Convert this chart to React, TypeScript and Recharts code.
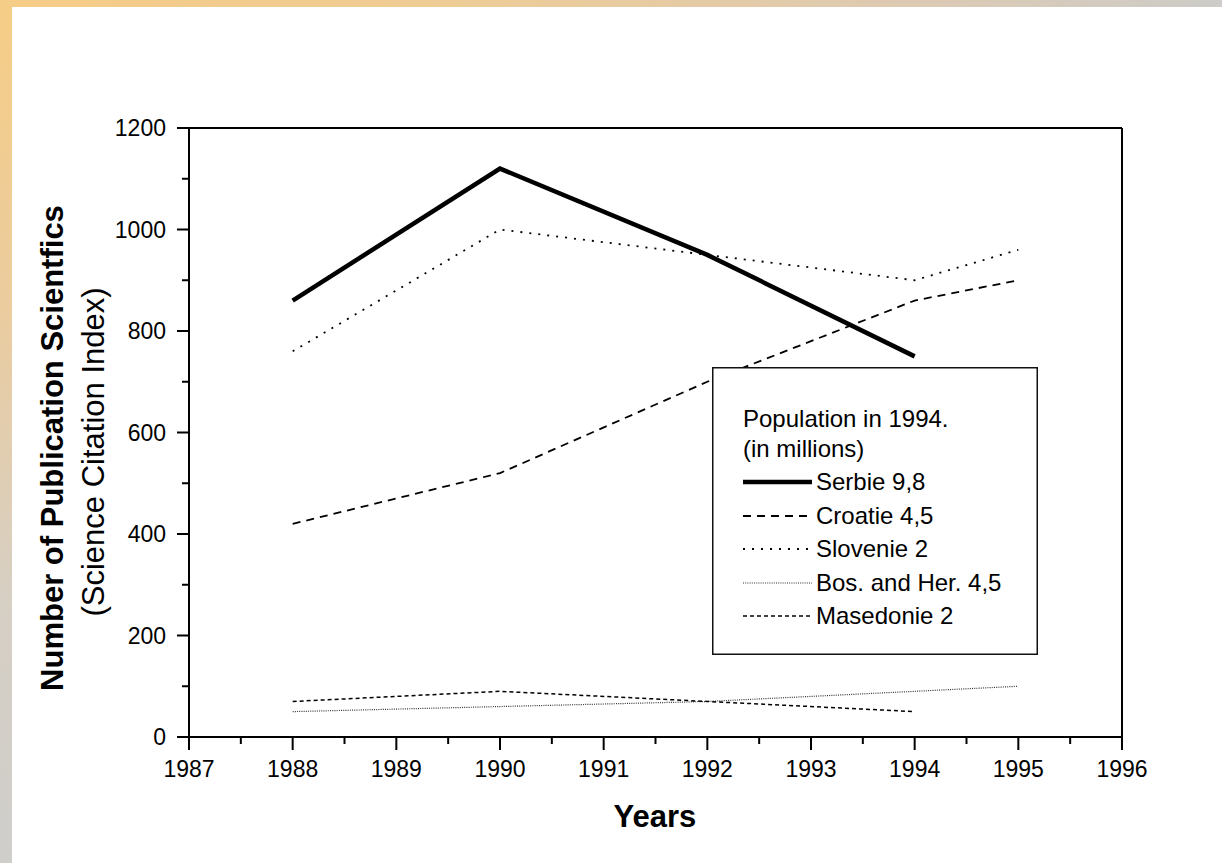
import React from "react";
import { LineChart, Line, XAxis, YAxis, ReferenceLine } from "recharts";

// values
const years = [1988, 1990, 1992, 1994, 1995];
const serbie = [860, 1120, 950, 750, null];
const croatie = [420, 520, 700, 860, 900];
const slovenie = [760, 1000, 950, 900, 960];
const bosHer = [50, 60, 70, 90, 100];
const masedonie = [70, 90, 70, 50, null];

const xTicks = [1987, 1987.5, 1988, 1988.5, 1989, 1989.5, 1990, 1990.5, 1991, 1991.5, 1992, 1992.5, 1993, 1993.5, 1994, 1994.5, 1995, 1995.5, 1996];
const yTicks = [0, 100, 200, 300, 400, 500, 600, 700, 800, 900, 1000, 1100, 1200];

const FONT = "'Liberation Sans', Arial, sans-serif";

const data = years.map((year, i) => ({
  year,
  serbie: serbie[i],
  croatie: croatie[i],
  slovenie: slovenie[i],
  bosHer: bosHer[i],
  masedonie: masedonie[i],
}));

const series = [
  { key: "serbie", name: "Serbie 9,8", width: 4.5, dash: undefined, color: "#000" },
  { key: "croatie", name: "Croatie 4,5", width: 1.8, dash: "8 6", color: "#000" },
  { key: "slovenie", name: "Slovenie 2", width: 1.8, dash: "2 7", color: "#000" },
  { key: "bosHer", name: "Bos. and Her. 4,5", width: 1.2, dash: "1 1.2", color: "#333" },
  { key: "masedonie", name: "Masedonie 2", width: 1.5, dash: "4 3", color: "#000" },
];

const XTick = (props: any) => {
  const { x, y, payload } = props;
  const v = payload.value;
  const major = Number.isInteger(v);
  return (
    <g>
      <line x1={x} x2={x} y1={y} y2={y + (major ? 13 : 7)} stroke="#000" strokeWidth={2} />
      {major && (
        <text x={x} y={y + 40} textAnchor="middle" fontSize={23} fontFamily={FONT} fill="#000">
          {v}
        </text>
      )}
    </g>
  );
};

const YTick = (props: any) => {
  const { x, y, payload } = props;
  const v = payload.value;
  const major = v % 200 === 0;
  return (
    <g>
      <line x1={x - (major ? 12 : 7)} x2={x} y1={y} y2={y} stroke="#000" strokeWidth={2} />
      {major && (
        <text x={x - 23} y={y + 8} textAnchor="end" fontSize={23} fontFamily={FONT} fill="#000">
          {v}
        </text>
      )}
    </g>
  );
};

const renderYTitle = () => (
  <g>
    <text
      x={52}
      y={448}
      transform="rotate(-90, 52, 448)"
      textAnchor="middle"
      dominantBaseline="central"
      fontSize={31}
      fontWeight="bold"
      fontFamily={FONT}
      fill="#000"
    >
      Number of Publication Scientfics
    </text>
    <text
      x={93}
      y={452}
      transform="rotate(-90, 93, 452)"
      textAnchor="middle"
      dominantBaseline="central"
      fontSize={31}
      fontFamily={FONT}
      fill="#000"
    >
      (Science Citation Index)
    </text>
  </g>
);

const renderXTitle = () => (
  <text x={655} y={827} textAnchor="middle" fontSize={31} fontWeight="bold" fontFamily={FONT} fill="#000">
    Years
  </text>
);

const LegendBox = () => {
  const rows = [60, 90, 123, 157, 190, 224, 257];
  return (
    <svg width={326} height={288} style={{ display: "block" }}>
      <rect x={0.75} y={0.75} width={324.5} height={286.5} fill="#fff" stroke="#111" strokeWidth={1.5} />
      <text x={31} y={rows[0]} fontSize={24} fontFamily={FONT} fill="#000">
        Population in 1994.
      </text>
      <text x={31} y={rows[1]} fontSize={24} fontFamily={FONT} fill="#000">
        (in millions)
      </text>
      {series.map((s, i) => (
        <g key={s.key}>
          <line
            x1={31}
            x2={100}
            y1={rows[i + 2] - 8}
            y2={rows[i + 2] - 8}
            stroke={s.color}
            strokeWidth={s.width}
            strokeDasharray={s.dash}
          />
          <text x={104} y={rows[i + 2]} fontSize={24} fontFamily={FONT} fill="#000">
            {s.name}
          </text>
        </g>
      ))}
    </svg>
  );
};

export default function App() {
  return (
    <div
      style={{
        position: "absolute",
        left: 0,
        top: 0,
        width: 1222,
        height: 863,
        background: "#fff",
        overflow: "hidden",
      }}
    >
      {/* slide frame */}
      <div
        style={{
          position: "absolute",
          left: 0,
          top: 0,
          width: 1222,
          height: 7,
          background: "linear-gradient(to right, #f6cd86 0%, #efcc94 35%, #dccab3 75%, #cdccc8 100%)",
        }}
      />
      <div
        style={{
          position: "absolute",
          left: 0,
          top: 0,
          width: 12,
          height: 863,
          background: "linear-gradient(to bottom, #f6cd86 0%, #ebcc9e 35%, #d6cfc4 70%, #cfcecb 100%)",
        }}
      />
      <div style={{ position: "absolute", left: 0, top: 0 }}>
        <LineChart width={1222} height={863} data={data} margin={{ top: 128, right: 100, bottom: 76, left: 0 }}>
          <XAxis
            dataKey="year"
            type="number"
            domain={[1987, 1996]}
            ticks={xTicks}
            interval={0}
            height={50}
            tickSize={0}
            tickMargin={0}
            tickLine={false}
            tick={<XTick />}
            axisLine={{ stroke: "#000", strokeWidth: 2 }}
            label={{ content: renderXTitle }}
          />
          <YAxis
            type="number"
            domain={[0, 1200]}
            ticks={yTicks}
            interval={0}
            width={189}
            tickSize={0}
            tickMargin={0}
            tickLine={false}
            tick={<YTick />}
            axisLine={{ stroke: "#000", strokeWidth: 2 }}
            label={{ content: renderYTitle }}
          />
          <ReferenceLine y={1200} stroke="#000" strokeWidth={2} />
          <ReferenceLine x={1996} stroke="#000" strokeWidth={2} />
          {series.map((s) => (
            <Line
              key={s.key}
              dataKey={s.key}
              name={s.name}
              type="linear"
              stroke={s.color}
              strokeWidth={s.width}
              strokeDasharray={s.dash}
              dot={false}
              activeDot={false}
              connectNulls={false}
              isAnimationActive={false}
            />
          ))}
        </LineChart>
      </div>
      {/* legend box */}
      <div style={{ position: "absolute", left: 712, top: 367 }}>
        <LegendBox />
      </div>
    </div>
  );
}
